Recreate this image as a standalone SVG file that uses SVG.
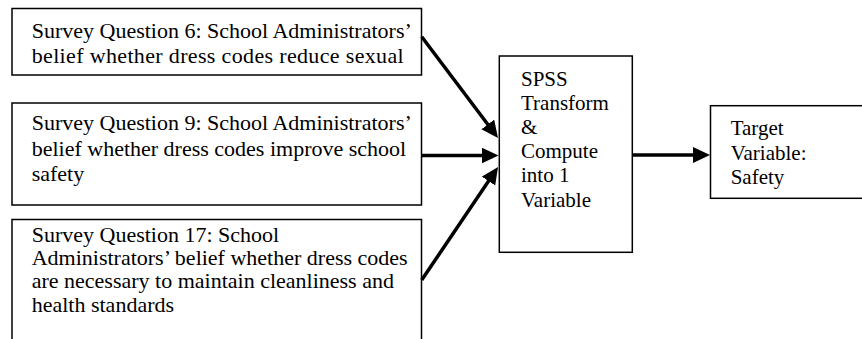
<svg xmlns="http://www.w3.org/2000/svg" width="862" height="339" viewBox="0 0 862 339">
  <defs>
    <style>
      .box { fill: #fff; stroke: #000; stroke-width: 1.5; }
      .t { font-family: 'Liberation Serif', 'DejaVu Serif', serif; font-size: 22px; fill: #000; }
      .tm { font-family: 'Liberation Serif', 'DejaVu Serif', serif; font-size: 21px; fill: #000; }
      .conn { stroke: #000; stroke-width: 3.5; fill: none; marker-end: url(#ah); }
    </style>
    <marker id="ah" markerUnits="userSpaceOnUse" markerWidth="18" markerHeight="17" refX="8" refY="8" orient="auto">
      <path d="M0,0 L17,8 L0,16 Z" fill="#000"/>
    </marker>
  </defs>
  <rect width="862" height="339" fill="#fff"/>

  <g id="q6">
    <rect class="box" x="12" y="8.5" width="409.5" height="66.5"/>
    <text class="t" x="31.7" y="37.5">Survey Question 6: School Administrators’</text>
    <text class="t" x="31.7" y="63" textLength="372" lengthAdjust="spacing">belief whether dress codes reduce sexual</text>
  </g>

  <g id="q9">
    <rect class="box" x="12" y="103" width="409.5" height="102"/>
    <text class="t" x="31.7" y="130">Survey Question 9: School Administrators’</text>
    <text class="t" x="31.7" y="155.5">belief whether dress codes improve school</text>
    <text class="t" x="31.7" y="181">safety</text>
  </g>

  <g id="q17">
    <rect class="box" x="12" y="219.5" width="409.5" height="130"/>
    <text class="t" x="31.7" y="242">Survey Question 17: School</text>
    <text class="t" x="31.7" y="265">Administrators’ belief whether dress codes</text>
    <text class="t" x="31.7" y="288.3">are necessary to maintain cleanliness and</text>
    <text class="t" x="31.7" y="311.7">health standards</text>
  </g>

  <g id="spss">
    <rect class="box" x="499.3" y="56" width="133" height="196.3"/>
    <text class="tm" x="521" y="86">SPSS</text>
    <text class="tm" x="521" y="110">Transform</text>
    <text class="tm" x="521" y="134">&amp;</text>
    <text class="tm" x="521" y="158.3">Compute</text>
    <text class="tm" x="521" y="182.3">into 1</text>
    <text class="tm" x="521" y="206.7">Variable</text>
  </g>

  <g id="target">
    <rect class="box" x="710.5" y="105.7" width="170" height="92.6"/>
    <text class="tm" x="730.7" y="135">Target</text>
    <text class="tm" x="730.7" y="160">Variable:</text>
    <text class="tm" x="730.7" y="184.3">Safety</text>
  </g>

  <g id="connectors">
    <line class="conn" x1="421.7" y1="36.7" x2="492.6" y2="130.8"/>
    <line class="conn" x1="421.7" y1="155.5" x2="489.5" y2="155.5"/>
    <line class="conn" x1="421.7" y1="280" x2="493" y2="174.5"/>
    <line class="conn" x1="632.3" y1="155" x2="701" y2="155"/>
  </g>
</svg>
